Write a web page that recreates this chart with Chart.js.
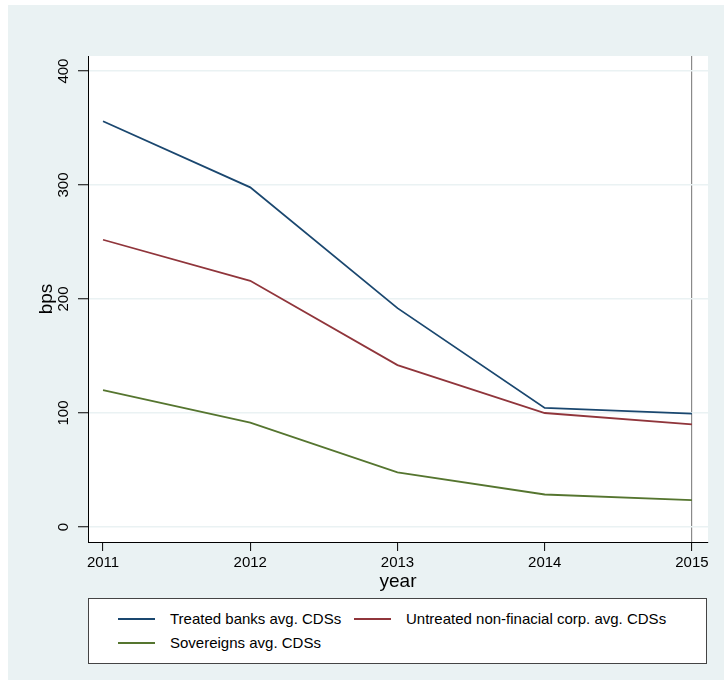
<!DOCTYPE html>
<html>
<head>
<meta charset="utf-8">
<script src="https://cdn.jsdelivr.net/npm/chart.js@4.4.1/dist/chart.umd.min.js"></script>
<style>
  body { margin: 0; background: #fff; font-family: "Liberation Sans", Arial, sans-serif; }
  #frame { position: absolute; left: 8px; top: 5px; width: 716px; height: 675px; background: #eaf2f3; }
  #legend { position: absolute; left: 80px; top: 593px; width: 617px; height: 64px;
            background: #fff; border: 1px solid #444; }
  .swatch { position: absolute; width: 37px; height: 2px; }
  .label { position: absolute; font-size: 15px; color: #000; line-height: 18px; white-space: nowrap; }
</style>
</head>
<body>
<div id="frame">
  <canvas id="cdsChart" width="716" height="675"></canvas>
  <div id="legend"></div>
</div>
<script>
const years = [2011, 2012, 2013, 2014, 2015];
const treatedBanks = [356, 298, 192, 104.5, 99.5];
const untreatedCorps = [252, 216, 142, 100, 90];
const sovereigns = [120, 91.5, 48, 28.5, 23.5];
const yTicks = [0, 100, 200, 300, 400];

const seriesNames = [
    'Treated banks avg. CDSs',
    'Untreated non-finacial corp. avg. CDSs',
    'Sovereigns avg. CDSs'
];
const seriesColors = ['#1a476f', '#90353b', '#55752f'];

document.addEventListener('DOMContentLoaded', () => {
    const ctx = document.getElementById('cdsChart').getContext('2d');

    const toPoints = (vals) => years.map((yr, i) => ({ x: yr, y: vals[i] }));
    const allSeries = [treatedBanks, untreatedCorps, sovereigns];

    // white plot region like stata's plotregion
    const plotBg = {
        id: 'plotBg',
        beforeDraw(chart) {
            const a = chart.chartArea;
            chart.ctx.save();
            chart.ctx.fillStyle = '#ffffff';
            chart.ctx.fillRect(a.left, a.top, a.right - a.left, a.bottom - a.top);
            chart.ctx.restore();
        }
    };

    const chart = new Chart(ctx, {
        type: 'line',
        data: {
            datasets: allSeries.map((vals, i) => ({
                label: seriesNames[i],
                data: toPoints(vals),
                borderColor: seriesColors[i],
                backgroundColor: seriesColors[i],
                borderWidth: 1.8,
                pointRadius: 0,
                tension: 0,
                fill: false
            }))
        },
        options: {
            responsive: false,
            animation: false,
            layout: { padding: { left: 0, top: 51, right: 16, bottom: 80 } },
            plugins: {
                legend: { display: false },
                tooltip: { enabled: false }
            },
            scales: {
                x: {
                    type: 'linear',
                    min: 2010.898,
                    max: 2015.109,
                    afterBuildTicks: (s) => { s.ticks = years.map(v => ({ value: v })); },
                    afterFit: (s) => { s.height = 58; },
                    ticks: {
                        padding: 3,
                        color: '#000',
                        font: { family: "'Liberation Sans', Arial, sans-serif", size: 15 },
                        maxRotation: 0,
                        callback: (v) => String(v)
                    },
                    grid: {
                        drawOnChartArea: true,
                        color: (c) => (c.tick && c.tick.value === 2015) ? '#8a8a8a' : 'rgba(0,0,0,0)',
                        lineWidth: 1.2,
                        tickLength: 9,
                        tickColor: '#000',
                        tickWidth: 1
                    },
                    border: { display: true, color: '#000', width: 1 },
                    title: {
                        display: true,
                        text: 'year',
                        color: '#000',
                        font: { family: "'Liberation Sans', Arial, sans-serif", size: 19 },
                        padding: { top: 0, bottom: 7 }
                    }
                },
                y: {
                    min: -13.16,
                    max: 413.2,
                    afterBuildTicks: (s) => { s.ticks = yTicks.map(v => ({ value: v })); },
                    afterFit: (s) => { s.width = 80; },
                    ticks: {
                        padding: 2,
                        color: '#000',
                        crossAlign: 'center',
                        minRotation: 90,
                        maxRotation: 90,
                        font: { family: "'Liberation Sans', Arial, sans-serif", size: 15 }
                    },
                    grid: {
                        color: '#eaf2f3',
                        lineWidth: 1.5,
                        tickLength: 10,
                        tickColor: '#000',
                        tickWidth: 1
                    },
                    border: { display: true, color: '#000', width: 1 },
                    title: {
                        display: true,
                        text: 'bps',
                        color: '#000',
                        font: { family: "'Liberation Sans', Arial, sans-serif", size: 19 },
                        padding: { top: 27, bottom: 0 }
                    }
                }
            }
        },
        plugins: [plotBg]
    });

    // legend box, stata style (2 columns)
    const legendSlots = [
        { row: 0, sx: 29, tx: 81 },
        { row: 0, sx: 265, tx: 317 },
        { row: 1, sx: 29, tx: 81 }
    ];
    const rowMid = [20, 44];
    const legend = document.getElementById('legend');
    chart.data.datasets.forEach((ds, i) => {
        const slot = legendSlots[i];
        const sw = document.createElement('div');
        sw.className = 'swatch';
        sw.style.left = slot.sx + 'px';
        sw.style.top = (rowMid[slot.row] - 1) + 'px';
        sw.style.background = ds.borderColor;
        legend.appendChild(sw);

        const lb = document.createElement('div');
        lb.className = 'label';
        lb.style.left = slot.tx + 'px';
        lb.style.top = (rowMid[slot.row] - 9) + 'px';
        lb.textContent = ds.label;
        legend.appendChild(lb);
    });
});
</script>
</body>
</html>
